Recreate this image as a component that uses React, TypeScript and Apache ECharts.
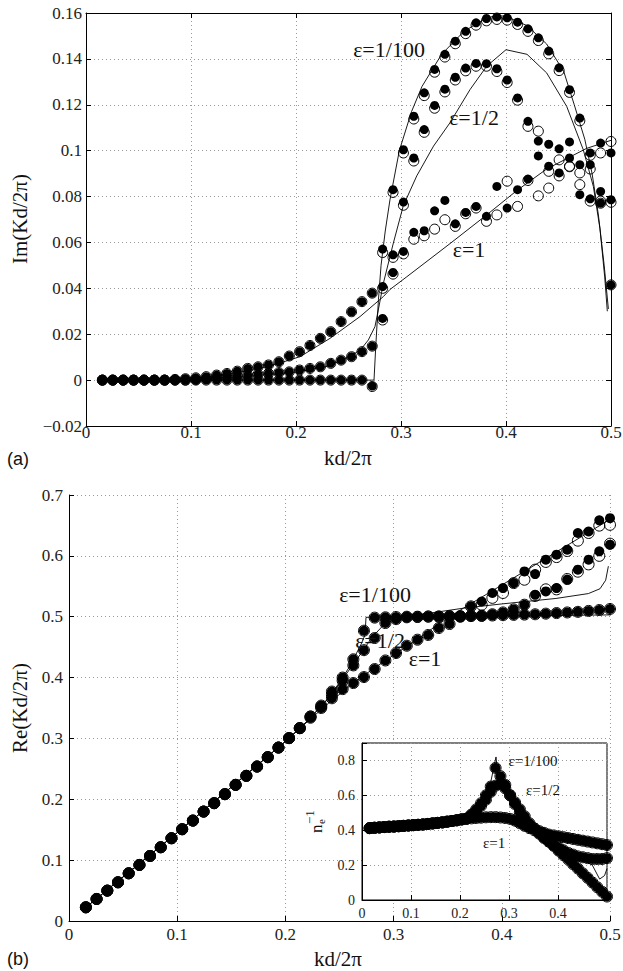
import { useEffect, useRef } from 'react';
import * as echarts from 'echarts';

// ---------- data ----------
const kd = [0.0156, 0.0255, 0.0354, 0.0453, 0.0552, 0.0651, 0.0749, 0.0848, 0.0947, 0.1046,
  0.1145, 0.1244, 0.1342, 0.1441, 0.1540, 0.1639, 0.1738, 0.1837, 0.1936, 0.2034,
  0.2133, 0.2232, 0.2331, 0.2430, 0.2529, 0.2628, 0.2726, 0.2825, 0.2924, 0.3023,
  0.3122, 0.3221, 0.3320, 0.3418, 0.3517, 0.3616, 0.3715, 0.3814, 0.3913, 0.4011,
  0.4110, 0.4209, 0.4308, 0.4407, 0.4506, 0.4605, 0.4703, 0.4802, 0.4901, 0.5000];

const imZeros26 = [0, 0, 0, 0, 0, 0, 0, 0, 0, 0, 0, 0, 0, 0, 0, 0, 0, 0, 0, 0, 0, 0, 0, 0, 0, 0];
const imEps100 = [...imZeros26, -0.0026, 0.0571, 0.0830, 0.1004, 0.1150, 0.1252, 0.1354, 0.1420, 0.1477, 0.1520,
  0.1557, 0.1576, 0.1583, 0.1579, 0.1560, 0.1531, 0.1492, 0.1434, 0.1361, 0.1266, 0.1142, 0.0990, 0.0771, 0.0415];
const imEps100Open = [...imZeros26, -0.0028, 0.0556, 0.0818, 0.0990, 0.1138, 0.1240, 0.1342, 0.1408, 0.1466, 0.1510,
  0.1547, 0.1566, 0.1572, 0.1569, 0.1550, 0.1520, 0.1480, 0.1422, 0.1349, 0.1254, 0.1130, 0.0980, 0.0771, 0.0415];

const imHalfLow = [0, 0, 0, 0, 0, 0, 0, 0, 0,
  0.0003, 0.0006, 0.0010, 0.0013, 0.0017, 0.0021, 0.0025, 0.0029, 0.0033, 0.0036,
  0.0044, 0.0051, 0.0058, 0.0073, 0.0087, 0.0102, 0.0124, 0.0148];
const imEpsHalf = [...imHalfLow, 0.0269, 0.0546, 0.0776, 0.0968, 0.1092, 0.1197, 0.1268, 0.1320, 0.1360, 0.1380,
  0.1379, 0.1357, 0.1308, 0.1230, 0.1128, 0.1042, 0.1028, 0.1008, 0.1038, 0.0808, 0.0790, 0.0822, 0.0786];
const imEpsHalfOpen = [...imHalfLow, 0.0262, 0.0535, 0.0762, 0.0955, 0.1080, 0.1185, 0.1256, 0.1308, 0.1348, 0.1368,
  0.1368, 0.1345, 0.1297, 0.1220, 0.1106, 0.1085, 0.0837, 0.0960, 0.0932, 0.0852, 0.0780, 0.0780, 0.0775];

const imOneLow = [0, 0, 0, 0, 0, 0, 0, 0.0003, 0.0006, 0.0010,
  0.0015, 0.0022, 0.0029, 0.0039, 0.0051, 0.0058, 0.0066, 0.0080, 0.0105, 0.0124,
  0.0151, 0.0182, 0.0211, 0.0255, 0.0298, 0.0342, 0.0379];
const imEps1 = [...imOneLow, 0.0408, 0.0469, 0.0561, 0.0644, 0.0651, 0.0738, 0.0783, 0.0681, 0.0731, 0.0757,
  0.0714, 0.0844, 0.0750, 0.0830, 0.0876, 0.0977, 0.0932, 0.0903, 0.0968, 0.0939, 0.0939, 0.1033, 0.0990];
const imEps1Open = [...imOneLow, 0.0400, 0.0462, 0.0550, 0.0614, 0.0629, 0.0658, 0.0699, 0.0670, 0.0725, 0.0750,
  0.0692, 0.0720, 0.0867, 0.0757, 0.0870, 0.0803, 0.0910, 0.0890, 0.0930, 0.0903, 0.0920, 0.0990, 0.1040];

// theory curves (Im)
const imLine100X = [0.0156, 0.2743, 0.2760, 0.2785, 0.2810, 0.2850, 0.2895, 0.2984, 0.3100, 0.3200, 0.3387, 0.3600,
  0.3800, 0.3910, 0.4000, 0.4200, 0.4387, 0.4550, 0.4650, 0.4750, 0.4820, 0.4880, 0.4935, 0.4975];
const imLine100Y = [0, 0, 0.0150, 0.0350, 0.0500, 0.0650, 0.0786, 0.1000, 0.1170, 0.1280, 0.1420, 0.1520,
  0.1575, 0.1590, 0.1585, 0.1545, 0.1465, 0.1345, 0.1200, 0.1050, 0.0900, 0.0720, 0.0500, 0.0310];
const imLineHalfX = [0.0156, 0.1000, 0.1500, 0.2000, 0.2300, 0.2514, 0.2620, 0.2689, 0.2752, 0.2784, 0.2832, 0.2927,
  0.3022, 0.3150, 0.3310, 0.3467, 0.3657, 0.3816, 0.4000, 0.4200, 0.4387, 0.4578, 0.4736, 0.4832, 0.4895, 0.4940, 0.4965];
const imLineHalfY = [0, 0.0005, 0.0015, 0.0035, 0.0060, 0.0102, 0.0135, 0.0175, 0.0233, 0.0306, 0.0422, 0.0597,
  0.0760, 0.0890, 0.1020, 0.1122, 0.1266, 0.1368, 0.1440, 0.1420, 0.1339, 0.1193, 0.1004, 0.0844, 0.0660, 0.0450, 0.0300];
const imLine1X = [0.0156, 0.0800, 0.1200, 0.1600, 0.1800, 0.2038, 0.2324, 0.2610, 0.2832, 0.2895, 0.3054, 0.3467,
  0.3816, 0.4100, 0.4387, 0.4768, 0.5000];
const imLine1Y = [0, 0.0003, 0.0015, 0.0045, 0.0068, 0.0102, 0.0182, 0.0277, 0.0364, 0.0395, 0.0450, 0.0595,
  0.0720, 0.0825, 0.0920, 0.1010, 0.1045];

// Re(Kd/2pi)
const reShared = [0.0225, 0.0362, 0.0499, 0.0636, 0.0784, 0.0921, 0.1069, 0.1212, 0.1360, 0.1508,
  0.1650, 0.1798, 0.1936, 0.2084, 0.2237, 0.2385, 0.2538, 0.2692, 0.2850, 0.3005, 0.3169];
const reEps100 = [...reShared, 0.3360, 0.3540, 0.3770, 0.4000, 0.4300, 0.4770, 0.4985, 0.4990, 0.4995,
  0.5000, 0.5000, 0.5005, 0.5005, 0.5010, 0.5010, 0.5015, 0.5015, 0.5020, 0.5025,
  0.5030, 0.5035, 0.5040, 0.5050, 0.5060, 0.5070, 0.5080, 0.5095, 0.5110, 0.5127];
const reEpsHalf = [...reShared, 0.3360, 0.3520, 0.3720, 0.3950, 0.4200, 0.4450, 0.4650, 0.4896, 0.4960,
  0.4990, 0.4995, 0.5000, 0.5000, 0.5005, 0.5005, 0.5010, 0.5015, 0.5040, 0.5070,
  0.5120, 0.5197, 0.5360, 0.5416, 0.5470, 0.5610, 0.5773, 0.5937, 0.6074, 0.6184];
const reEpsHalfOpen = [...reShared, 0.3360, 0.3520, 0.3720, 0.3950, 0.4200, 0.4450, 0.4650, 0.4896, 0.4960,
  0.4990, 0.4995, 0.5000, 0.5000, 0.5005, 0.5005, 0.5010, 0.5015, 0.5040, 0.5070,
  0.5120, 0.5197, 0.5340, 0.5450, 0.5450, 0.5620, 0.5740, 0.5860, 0.6000, 0.6200];
const reEps1 = [...reShared, 0.3340, 0.3500, 0.3660, 0.3810, 0.3910, 0.4008, 0.4140, 0.4281, 0.4403,
  0.4523, 0.4622, 0.4700, 0.4814, 0.4880, 0.5000, 0.5170, 0.5250, 0.5390, 0.5470,
  0.5553, 0.5745, 0.5700, 0.5937, 0.6020, 0.6100, 0.6376, 0.6400, 0.6584, 0.6620];
const reEps1Open = [...reShared, 0.3340, 0.3500, 0.3660, 0.3810, 0.3910, 0.4008, 0.4140, 0.4281, 0.4403,
  0.4523, 0.4622, 0.4700, 0.4814, 0.4880, 0.5000, 0.5170, 0.5197, 0.5310, 0.5390,
  0.5553, 0.5608, 0.5773, 0.5900, 0.5980, 0.6080, 0.6250, 0.6376, 0.6497, 0.6510];

const reLine100X = [0.0156, 0.1000, 0.2000, 0.2200, 0.2400, 0.2500, 0.2600, 0.2700, 0.2736, 0.2745, 0.3000, 0.4000, 0.5000];
const reLine100Y = [0.0225, 0.1450, 0.2950, 0.3280, 0.3670, 0.3920, 0.4200, 0.4550, 0.4700, 0.4990, 0.5000, 0.5010, 0.5030];
const reLineHalfX = [0.0156, 0.1000, 0.2000, 0.2200, 0.2400, 0.2600, 0.2700, 0.2800, 0.2900, 0.3000, 0.3300, 0.3645,
  0.4000, 0.4500, 0.4800, 0.4908, 0.4960, 0.4985];
const reLineHalfY = [0.0225, 0.1450, 0.2950, 0.3280, 0.3660, 0.4150, 0.4400, 0.4660, 0.4850, 0.4950, 0.5050, 0.5140,
  0.5210, 0.5300, 0.5380, 0.5460, 0.5600, 0.5830];
const reLine1X = [0.0156, 0.1000, 0.2000, 0.2200, 0.2400, 0.2600, 0.2800, 0.3000, 0.3200, 0.3400, 0.3645, 0.4000, 0.4500, 0.5000];
const reLine1Y = [0.0225, 0.1450, 0.2950, 0.3270, 0.3580, 0.3870, 0.4130, 0.4370, 0.4600, 0.4860, 0.5140, 0.5520, 0.6060, 0.6600];

// inset: n_e^-1
const neShared = [0.412, 0.414, 0.416, 0.418, 0.420, 0.421, 0.423, 0.425, 0.427, 0.429,
  0.431, 0.433, 0.436, 0.439, 0.442, 0.445, 0.449, 0.453, 0.457, 0.462, 0.466];
const neEps100 = [...neShared, 0.490, 0.520, 0.555, 0.600, 0.650, 0.757, 0.710, 0.660, 0.600,
  0.550, 0.500, 0.460, 0.430, 0.410, 0.395, 0.385, 0.375, 0.370, 0.365,
  0.360, 0.355, 0.350, 0.345, 0.340, 0.335, 0.330, 0.325, 0.320, 0.315];
const neEpsHalf = [...neShared, 0.485, 0.510, 0.540, 0.575, 0.620, 0.655, 0.665, 0.640, 0.600,
  0.560, 0.520, 0.480, 0.440, 0.410, 0.380, 0.355, 0.335, 0.315, 0.300,
  0.285, 0.270, 0.260, 0.250, 0.245, 0.240, 0.235, 0.235, 0.235, 0.240];
const neEps1 = [...neShared, 0.468, 0.470, 0.472, 0.474, 0.475, 0.475, 0.473, 0.470, 0.465,
  0.455, 0.440, 0.425, 0.412, 0.400, 0.385, 0.360, 0.335, 0.310, 0.283,
  0.257, 0.232, 0.205, 0.180, 0.153, 0.127, 0.100, 0.073, 0.047, 0.020];

const neLine100X = [0.0156, 0.1000, 0.2000, 0.2200, 0.2400, 0.2600, 0.2735, 0.2780, 0.2900, 0.3100, 0.3300, 0.3500, 0.4000, 0.4500, 0.5000];
const neLine100Y = [0.412, 0.430, 0.462, 0.490, 0.550, 0.640, 0.820, 0.700, 0.660, 0.590, 0.500, 0.430, 0.370, 0.345, 0.315];
const neLineHalfX = [0.0156, 0.2000, 0.2200, 0.2400, 0.2600, 0.2800, 0.3000, 0.3300, 0.3600, 0.4000, 0.4400, 0.4700, 0.4850, 0.4950, 0.5000];
const neLineHalfY = [0.412, 0.462, 0.485, 0.535, 0.610, 0.660, 0.620, 0.500, 0.390, 0.300, 0.250, 0.200, 0.120, 0.140, 0.180];
const neLine1X = [0.0156, 0.2000, 0.2500, 0.2800, 0.3000, 0.3300, 0.3600, 0.4000, 0.4500, 0.5000];
const neLine1Y = [0.412, 0.462, 0.475, 0.473, 0.465, 0.430, 0.380, 0.285, 0.155, 0.020];

// ---------- helpers ----------
const serif = 'Liberation Serif, DejaVu Serif, serif';
const sans = 'Liberation Sans, Arial, sans-serif';
const zip = (xs: number[], ys: number[]) => xs.map((x, i) => [x, ys[i]]);
const fmt = (v: number) => String(Math.round(v * 1000) / 1000).replace('-', '\u2212');

const dotted = { show: true, lineStyle: { color: '#9a9a9a', width: 1, type: [1, 3] } };
const blackLine = { show: true, onZero: false, lineStyle: { color: '#000', width: 1 } };
const inTick = { show: true, inside: true, length: 5, lineStyle: { color: '#000', width: 1 } };

function lineSeries(x: number, y: number, xs: number[], ys: number[], z: number) {
  return {
    type: 'line', xAxisIndex: x, yAxisIndex: y, data: zip(xs, ys), showSymbol: false, symbol: 'none',
    lineStyle: { color: '#000', width: 0.9, opacity: 1 }, z, silent: true,
  };
}
function filled(x: number, y: number, ys: number[], z: number, size = 9) {
  return {
    type: 'scatter', xAxisIndex: x, yAxisIndex: y, data: zip(kd, ys), symbol: 'circle', symbolSize: size,
    itemStyle: { color: '#000', opacity: 1 }, z, silent: true,
  };
}
function open(x: number, y: number, ys: number[], z: number, size = 10) {
  return {
    type: 'scatter', xAxisIndex: x, yAxisIndex: y, data: zip(kd, ys), symbol: 'circle', symbolSize: size,
    itemStyle: { color: 'rgba(0,0,0,0)', borderColor: '#000', borderWidth: 1, opacity: 1 }, z, silent: true,
  };
}
function label(text: string, x: number, y: number, size: number, z = 50) {
  return {
    type: 'text', x, y, z,
    style: { text, fill: '#111', fontFamily: serif, fontSize: size, align: 'center', verticalAlign: 'middle' },
  };
}
function vlabel(text: string, x: number, y: number, size: number, align = 'center', family = serif) {
  return {
    type: 'text', x, y, z: 50, rotation: Math.PI / 2,
    style: { text, fill: '#111', fontFamily: family, fontSize: size, align, verticalAlign: 'middle' },
  };
}
const tickFont = { fontFamily: serif, fontSize: 17, color: '#222' };

export default function App() {
  const ref = useRef<HTMLDivElement>(null);
  useEffect(() => {
    if (!ref.current) return;
    const chart = echarts.init(ref.current, null, { renderer: 'svg' });
    const option: any = {
      animation: false,
      backgroundColor: '#fff',
      textStyle: { fontFamily: serif },
      grid: [
        { left: 86, top: 13, width: 525, height: 413, outerBoundsMode: 'none' },
        { left: 69, top: 495, width: 541, height: 426, outerBoundsMode: 'none' },
        { left: 362, top: 743, width: 245, height: 157, show: true, backgroundColor: '#fff',
          borderColor: '#000', borderWidth: 1, z: 10, outerBoundsMode: 'none' },
      ],
      xAxis: [
        { gridIndex: 0, type: 'value', min: 0, max: 0.5, interval: 0.1, axisLine: blackLine, axisTick: inTick,
          axisLabel: { ...tickFont, margin: -2, formatter: fmt }, splitLine: dotted },
        { gridIndex: 0, type: 'value', position: 'top', min: 0, max: 0.5, interval: 0.1, axisLine: blackLine,
          axisTick: inTick, axisLabel: { show: false }, splitLine: { show: false } },
        { gridIndex: 1, type: 'value', min: 0, max: 0.5, interval: 0.1, axisLine: blackLine, axisTick: inTick,
          axisLabel: { ...tickFont, margin: 5, formatter: fmt }, splitLine: dotted },
        { gridIndex: 2, type: 'value', min: 0, max: 0.5, interval: 0.1, axisLine: blackLine, axisTick: inTick, z: 11,
          axisLabel: { fontFamily: serif, fontSize: 14, color: '#222', margin: 6,
            formatter: (v: number) => (v > 0.45 ? '' : fmt(v)) }, splitLine: dotted },
      ],
      yAxis: [
        { gridIndex: 0, type: 'value', min: -0.02, max: 0.16, interval: 0.02, axisLine: blackLine, axisTick: inTick,
          axisLabel: { ...tickFont, margin: 4, formatter: fmt }, splitLine: dotted },
        { gridIndex: 0, type: 'value', position: 'right', min: -0.02, max: 0.16, interval: 0.02, axisLine: blackLine,
          axisTick: inTick, axisLabel: { show: false }, splitLine: { show: false } },
        { gridIndex: 1, type: 'value', min: 0, max: 0.7, interval: 0.1, axisLine: blackLine, axisTick: inTick,
          axisLabel: { ...tickFont, margin: 6, formatter: fmt }, splitLine: dotted },
        { gridIndex: 2, type: 'value', min: 0, max: 0.9, interval: 0.2, axisLine: blackLine, axisTick: inTick, z: 11,
          axisLabel: { fontFamily: serif, fontSize: 14, color: '#222', margin: 7,
            formatter: (v: number) => (v > 0.85 ? '' : fmt(v)) }, splitLine: dotted },
      ],
      series: [
        lineSeries(0, 0, imLine100X, imLine100Y, 2),
        lineSeries(0, 0, imLineHalfX, imLineHalfY, 2),
        lineSeries(0, 0, imLine1X, imLine1Y, 2),
        open(0, 0, imEps100Open, 3), open(0, 0, imEpsHalfOpen, 3), open(0, 0, imEps1Open, 3),
        filled(0, 0, imEps100, 4), filled(0, 0, imEpsHalf, 4), filled(0, 0, imEps1, 4),

        lineSeries(2, 2, reLine100X, reLine100Y, 2),
        lineSeries(2, 2, reLineHalfX, reLineHalfY, 2),
        lineSeries(2, 2, reLine1X, reLine1Y, 2),
        open(2, 2, reEps100, 3, 11), open(2, 2, reEpsHalfOpen, 3, 11), open(2, 2, reEps1Open, 3, 11),
        filled(2, 2, reEps100, 4, 10), filled(2, 2, reEpsHalf, 4, 10), filled(2, 2, reEps1, 4, 10),

        open(3, 3, neEps1, 12, 11), open(3, 3, neEpsHalf, 12, 11), open(3, 3, neEps100, 12, 11),
        filled(3, 3, neEps1, 13, 10), filled(3, 3, neEpsHalf, 13, 10), filled(3, 3, neEps100, 13, 10),
        lineSeries(3, 3, neLine100X, neLine100Y, 14),
        lineSeries(3, 3, neLineHalfX, neLineHalfY, 14),
        lineSeries(3, 3, neLine1X, neLine1Y, 14),
      ],
      graphic: [
        label('\u03b5=1/100', 389, 49, 22),
        label('\u03b5=1/2', 474, 117, 22),
        label('\u03b5=1', 469, 249, 22),
        label('kd/2\u03c0', 348, 458, 21),
        vlabel('Im(Kd/2\u03c0)', 20, 219, 21),
        { type: 'text', x: 7, y: 459, z: 50,
          style: { text: '(a)', fill: '#111', fontFamily: sans, fontSize: 18, align: 'left', verticalAlign: 'middle' } },

        label('\u03b5=1/100', 375, 594, 22),
        label('\u03b5=1/2', 380, 640, 22),
        label('\u03b5=1', 425, 658, 22),
        label('kd/2\u03c0', 338, 959, 21),
        vlabel('Re(Kd/2\u03c0)', 20, 708, 21),
        { type: 'text', x: 7, y: 959, z: 50,
          style: { text: '(b)', fill: '#111', fontFamily: sans, fontSize: 18, align: 'left', verticalAlign: 'middle' } },

        label('\u03b5=1/100', 533, 761, 15),
        label('\u03b5=1/2', 543, 790, 15),
        label('\u03b5=1', 494, 843, 15),
        vlabel('n', 316, 833, 17, 'left'),
        vlabel('e', 321, 824, 11, 'left'),
        vlabel('\u22121', 309, 824, 13, 'left'),
      ],
    };
    chart.setOption(option);
    return () => chart.dispose();
  }, []);
  return (
    <div ref={ref} style={{ position: 'absolute', left: 0, top: 0, width: 623, height: 971, background: '#fff' }} />
  );
}
